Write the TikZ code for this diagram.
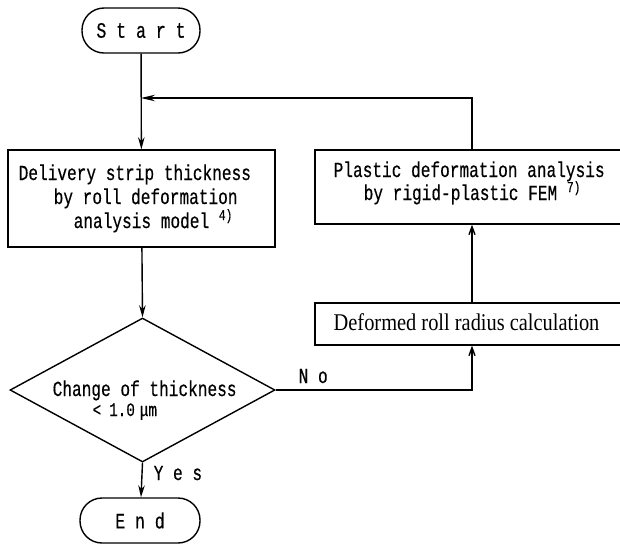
\documentclass[tikz,border=0pt]{standalone}
\usepackage{fontspec}
\newfontfamily\jmono{Liberation Mono}[FakeStretch=0.75,FakeBold=0.4]
\newfontfamily\jserif{Liberation Serif}[FakeStretch=0.85]
\usetikzlibrary{arrows.meta,shapes.geometric}
\newcommand{\supref}[1]{\raisebox{8pt}{\fontsize{15}{15}\selectfont #1}}
\begin{document}
\begin{tikzpicture}[x=1pt,y=-1pt,line width=1.4pt,
  txt/.style={inner sep=0pt,anchor=base west,font=\jmono\fontsize{21.5}{24}\selectfont},
  box/.style={draw,inner sep=0pt},
  term/.style={draw,inner sep=0pt,rounded corners=22pt,font=\jmono\fontsize{22}{24}\selectfont},
  dn/.style={-{Stealth[length=12pt,width=6.5pt]}},
  up/.style={-{Straight Barb[length=8pt,width=6pt]}},
  lt/.style={-{Stealth[length=14pt,width=6.5pt]}}]
\useasboundingbox (0,0) rectangle (620,547);

\node[term,minimum width=118pt,minimum height=45pt] (start) at (141,30.5) {S t a r t};
\node[box,minimum width=267pt,minimum height=97pt] (deliv) at (141.5,198.5) {};
\node[txt] (d1) at (18,180) {Delivery strip thickness};
\node[txt] (d2) at (53,204) {by roll deformation};
\node[txt] (d3) at (73,228) {analysis model \supref{4)}};

\node[draw,diamond,inner sep=0pt,minimum width=265pt,minimum height=144pt] (dec) at (142.5,390) {};
\node[txt] (c1) at (52,396) {Change of thickness};
\node[txt,font=\jmono\fontsize{19}{20}\selectfont] (c2) at (92,416) {<\hspace{8pt}1.0\hspace{5pt}μm};

\node[term,minimum width=120pt,minimum height=45pt] (end) at (140,520.5) {E n d};

\node[box,minimum width=310pt,minimum height=74pt] (plastic) at (470,187) {};
\node[txt] (p1) at (333,177) {Plastic deformation analysis};
\node[txt] (p2) at (363,200) {by rigid-plastic FEM \supref{7)}};

\node[box,minimum width=310pt,minimum height=42pt] (deform) at (470,324) {};
\node[txt,font=\jserif\fontsize{24}{24}\selectfont] (df) at (333,330) {Deformed roll radius calculation};

\node[txt] (yes) at (153,480) {Y e s};
\node[txt] (no) at (298,383) {N o};

\coordinate (jn) at (141,98);
\coordinate (rc) at (472,98);

\draw[dn] (start) -- (deliv);
\draw[dn] (deliv) -- (dec.north);
\draw[dn] (dec.south) -- (end);
\draw[up] (dec.east) -- (rc |- dec.east) -- (rc |- deform.south);
\draw[up] (rc |- deform.north) -- (rc |- plastic.south);
\draw[lt] (rc |- plastic.north) -- (rc) -- (jn);
\end{tikzpicture}
\end{document}
